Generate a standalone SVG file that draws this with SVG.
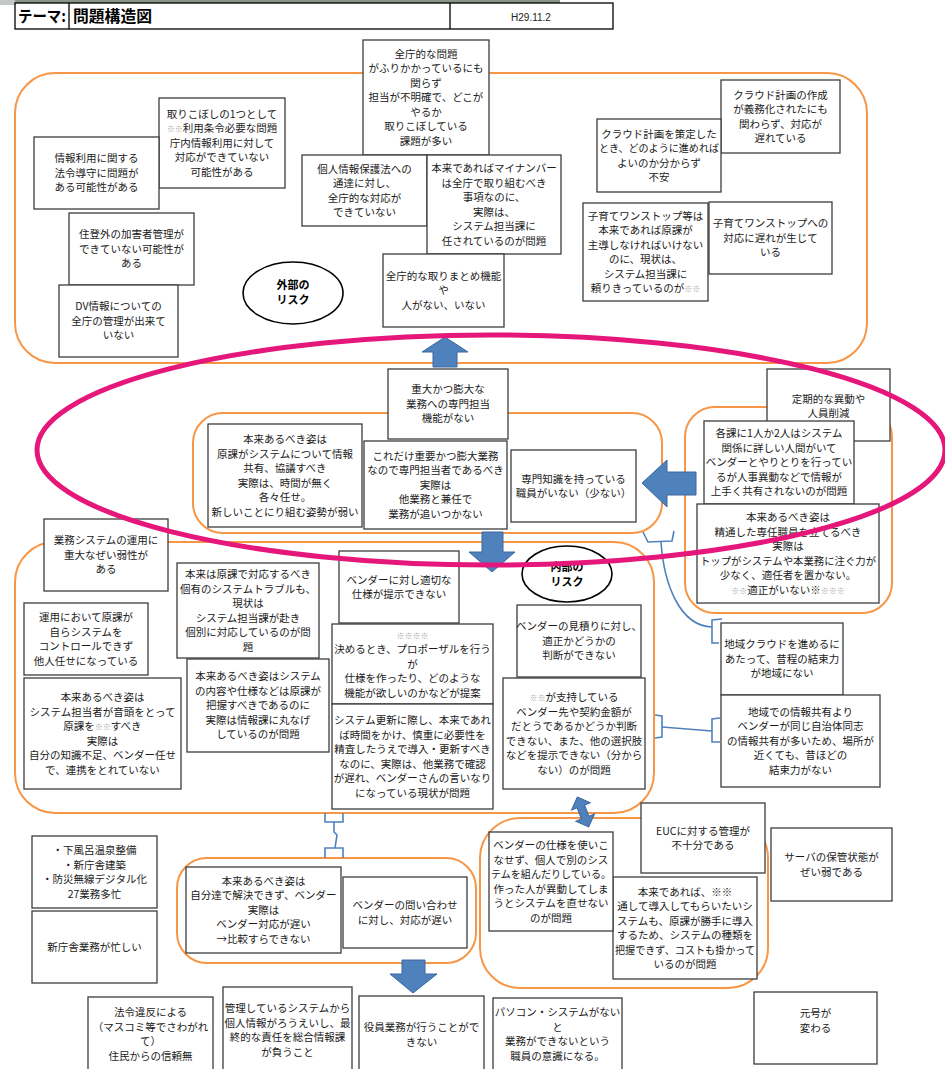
<svg xmlns="http://www.w3.org/2000/svg" width="945" height="1069" viewBox="0 0 945 1069">
<style>
.b{fill:#fff;stroke:#3c3c3c;stroke-width:1.3}
.t{font-family:"Noto Sans CJK JP","Liberation Sans",sans-serif;font-size:10.5px;fill:#1a1a1a;text-anchor:middle}
.g{fill:#9a9a9a;font-size:8px}
.grp{fill:none;stroke:#F79646;stroke-width:2}
.arr{fill:#4F81BD;stroke:#3A679E;stroke-width:1}
.con{fill:none;stroke:#4F81BD;stroke-width:1.6}
.risk{fill:#fff;stroke:#000;stroke-width:1.6}
.rt{font-family:"Noto Sans CJK JP","Liberation Sans",sans-serif;font-size:11px;font-weight:bold;fill:#000;text-anchor:middle}
.hd{font-family:"Noto Sans CJK JP","Liberation Sans",sans-serif;font-size:16px;font-weight:bold;fill:#000}
</style>
<rect width="945" height="1069" fill="#fff"/>
<rect x="0" y="0" width="560" height="3" fill="#8a948a"/>
<rect x="0" y="0" width="15" height="5" fill="#c4c8c4"/>

<g id="header">
<rect x="15" y="3" width="598" height="26" fill="#fff" stroke="#000" stroke-width="1.3"/>
<line x1="69" y1="3" x2="69" y2="29" stroke="#000" stroke-width="1.3"/>
<line x1="450" y1="3" x2="450" y2="29" stroke="#000" stroke-width="1.3"/>
<text class="hd" x="18" y="22" textLength="48" lengthAdjust="spacingAndGlyphs">テーマ:</text>
<text class="hd" x="73" y="22" textLength="79" lengthAdjust="spacingAndGlyphs">問題構造図</text>
<text x="531" y="21" font-family="Liberation Sans, sans-serif" font-size="10" text-anchor="middle" fill="#222">H29.11.2</text>
</g>

<g id="groups">
<rect id="grp-external" class="grp" x="15" y="73" width="852" height="290" rx="40"/>
<rect id="grp-center" class="grp" x="193" y="413" width="469" height="120" rx="30"/>
<rect id="grp-right" class="grp" x="685" y="407" width="207" height="206" rx="30"/>
<rect id="grp-internal" class="grp" x="15" y="542" width="639" height="271" rx="40"/>
<rect id="grp-lowright" class="grp" x="480" y="818" width="288" height="170" rx="40"/>
<rect id="grp-lowmid" class="grp" x="177" y="858" width="299" height="105" rx="30"/>
</g>

<g id="n-A"><rect class="b" x="159" y="98" width="126" height="90"/><text class="t"><tspan x="222" y="117.8">取りこぼしの1つとして</tspan><tspan x="222" y="132.3"><tspan class="g">※※</tspan>利用条令必要な問題</tspan><tspan x="222" y="146.8">庁内情報利用に対して</tspan><tspan x="222" y="161.3">対応ができていない</tspan><tspan x="222" y="175.8">可能性がある</tspan></text></g>
<g id="n-B"><rect class="b" x="34" y="137" width="125" height="72"/><text class="t"><tspan x="96.5" y="162.3">情報利用に関する</tspan><tspan x="96.5" y="176.8">法令導守に問題が</tspan><tspan x="96.5" y="191.3">ある可能性がある</tspan></text></g>
<g id="n-C"><rect class="b" x="69" y="213" width="125" height="72"/><text class="t"><tspan x="131.5" y="238.3">住登外の加害者管理が</tspan><tspan x="131.5" y="252.8">できていない可能性が</tspan><tspan x="131.5" y="267.3">ある</tspan></text></g>
<g id="n-D"><rect class="b" x="59" y="285" width="119" height="72"/><text class="t"><tspan x="118.5" y="310.3">DV情報についての</tspan><tspan x="118.5" y="324.8">全庁の管理が出来て</tspan><tspan x="118.5" y="339.3">いない</tspan></text></g>
<g id="n-ext-risk"><ellipse class="risk" cx="293" cy="293" rx="50" ry="31"/><text class="rt"><tspan x="293" y="289">外部の</tspan><tspan x="293" y="304">リスク</tspan></text></g>
<g id="n-E"><rect class="b" x="363" y="40" width="126" height="115"/><text class="t"><tspan x="426" y="57.8">全庁的な問題</tspan><tspan x="426" y="72.3">がふりかかっているにも</tspan><tspan x="426" y="86.8">関らず</tspan><tspan x="426" y="101.3">担当が不明確で、どこが</tspan><tspan x="426" y="115.8">やるか</tspan><tspan x="426" y="130.3">取りこぼしている</tspan><tspan x="426" y="144.8">課題が多い</tspan></text></g>
<g id="n-F"><rect class="b" x="302" y="155" width="125" height="71"/><text class="t"><tspan x="364.5" y="172.6">個人情報保護法への</tspan><tspan x="364.5" y="187.1">通達に対し、</tspan><tspan x="364.5" y="201.6">全庁的な対応が</tspan><tspan x="364.5" y="216.1">できていない</tspan></text></g>
<g id="n-G"><rect class="b" x="427" y="155" width="134" height="99"/><text class="t"><tspan x="494" y="172.1">本来であればマイナンバー</tspan><tspan x="494" y="186.6">は全庁で取り組むべき</tspan><tspan x="494" y="201.1">事項なのに、</tspan><tspan x="494" y="215.6">実際は、</tspan><tspan x="494" y="230.1">システム担当課に</tspan><tspan x="494" y="244.6">任されているのが問題</tspan></text></g>
<g id="n-H"><rect class="b" x="383" y="254" width="121" height="73"/><text class="t"><tspan x="443.5" y="279.8">全庁的な取りまとめ機能</tspan><tspan x="443.5" y="294.3">や</tspan><tspan x="443.5" y="308.8">人がない、いない</tspan></text></g>
<g id="n-I"><rect class="b" x="721" y="80" width="119" height="73"/><text class="t"><tspan x="780.5" y="98.6">クラウド計画の作成</tspan><tspan x="780.5" y="113.1">が義務化されたにも</tspan><tspan x="780.5" y="127.6">関わらず、対応が</tspan><tspan x="780.5" y="142.1">遅れている</tspan></text></g>
<g id="n-J"><rect class="b" x="597" y="119" width="124" height="73"/><text class="t"><tspan x="659" y="137.6">クラウド計画を策定した</tspan><tspan x="659" y="152.1" textLength="120" lengthAdjust="spacingAndGlyphs">とき、どのように進めれば</tspan><tspan x="659" y="166.6">よいのか分からず</tspan><tspan x="659" y="181.1">不安</tspan></text></g>
<g id="n-K"><rect class="b" x="583" y="203" width="125" height="98"/><text class="t"><tspan x="645.5" y="219.6">子育てワンストップ等は</tspan><tspan x="645.5" y="234.1">本来であれば原課が</tspan><tspan x="645.5" y="248.6">主導しなければいけない</tspan><tspan x="645.5" y="263.1">のに、現状は、</tspan><tspan x="645.5" y="277.6">システム担当課に</tspan><tspan x="645.5" y="292.1">頼りきっているのが<tspan class="g">※※</tspan></tspan></text></g>
<g id="n-L"><rect class="b" x="709" y="202" width="123" height="72"/><text class="t"><tspan x="770.5" y="227.3">子育てワンストップへの</tspan><tspan x="770.5" y="241.8">対応に遅れが生じて</tspan><tspan x="770.5" y="256.3">いる</tspan></text></g>

<g id="n-M"><rect class="b" x="388" y="369" width="120" height="70"/><text class="t"><tspan x="448" y="393.3">重大かつ膨大な</tspan><tspan x="448" y="407.8">業務への専門担当</tspan><tspan x="448" y="422.3">機能がない</tspan></text></g>
<g id="n-N"><rect class="b" x="208" y="424" width="154" height="103"/><text class="t"><tspan x="285" y="443.1">本来あるべき姿は</tspan><tspan x="285" y="457.6">原課がシステムについて情報</tspan><tspan x="285" y="472.1">共有、協議すべき</tspan><tspan x="285" y="486.6">実際は、時間が無く</tspan><tspan x="285" y="501.1">各々任せ。</tspan><tspan x="285" y="515.6">新しいことにり組む姿勢が弱い</tspan></text></g>
<g id="n-O"><rect class="b" x="364" y="441" width="143" height="88"/><text class="t"><tspan x="435.5" y="459.8">これだけ重要かつ膨大業務</tspan><tspan x="435.5" y="474.3">なので専門担当者であるべき</tspan><tspan x="435.5" y="488.8">実際は</tspan><tspan x="435.5" y="503.3">他業務と兼任で</tspan><tspan x="435.5" y="517.8">業務が追いつかない</tspan></text></g>
<g id="n-P"><rect class="b" x="511" y="450" width="125" height="72"/><text class="t"><tspan x="573.5" y="482.6">専門知識を持っている</tspan><tspan x="573.5" y="497.1">職員がいない（少ない）</tspan></text></g>
<g id="n-Q"><rect class="b" x="767" y="369" width="123" height="72"/><text class="t"><tspan x="828.5" y="403">定期的な異動や</tspan><tspan x="828.5" y="417">人員削減</tspan></text></g>
<g id="n-R"><rect class="b" x="704" y="421" width="150" height="83"/><text class="t"><tspan x="779" y="437.3">各課に1人か2人はシステム</tspan><tspan x="779" y="451.8">関係に詳しい人間がいて</tspan><tspan x="779" y="466.3">ベンダーとやりとりを行ってい</tspan><tspan x="779" y="480.8">るが人事異動などで情報が</tspan><tspan x="779" y="495.3">上手く共有されないのが問題</tspan></text></g>
<g id="n-S"><rect class="b" x="697" y="504" width="182" height="99"/><text class="t"><tspan x="788" y="521.1">本来あるべき姿は</tspan><tspan x="788" y="535.6">精通した専任職員を立てるべき</tspan><tspan x="788" y="550.1">実際は</tspan><tspan x="788" y="564.6" textLength="176" lengthAdjust="spacingAndGlyphs">トップがシステムや本業務に注ぐ力が</tspan><tspan x="788" y="579.1">少なく、適任者を置かない。</tspan><tspan x="788" y="593.6"><tspan class="g">※※</tspan>適正がいない※<tspan class="g">※※※</tspan></tspan></text></g>

<g id="n-T"><rect class="b" x="44" y="519" width="124" height="72"/><text class="t"><tspan x="106" y="544.3">業務システムの運用に</tspan><tspan x="106" y="558.8">重大なぜい弱性が</tspan><tspan x="106" y="573.3">ある</tspan></text></g>
<g id="n-U"><rect class="b" x="24" y="603" width="124" height="72"/><text class="t"><tspan x="86" y="621.1">運用において原課が</tspan><tspan x="86" y="635.6">自らシステムを</tspan><tspan x="86" y="650.1">コントロールできず</tspan><tspan x="86" y="664.6">他人任せになっている</tspan></text></g>
<g id="n-V"><rect class="b" x="24" y="678" width="157" height="111"/><text class="t"><tspan x="102.5" y="701.1">本来あるべき姿は</tspan><tspan x="102.5" y="715.6">システム担当者が音頭をとって</tspan><tspan x="102.5" y="730.1">原課を<tspan class="g">※※</tspan>すべき</tspan><tspan x="102.5" y="744.6">実際は</tspan><tspan x="102.5" y="759.1">自分の知識不足、ベンダー任せ</tspan><tspan x="102.5" y="773.6">で、連携をとれていない</tspan></text></g>
<g id="n-W"><rect class="b" x="177" y="563" width="142" height="95"/><text class="t"><tspan x="248" y="578.1">本来は原課で対応するべき</tspan><tspan x="248" y="592.6">個有のシステムトラブルも、</tspan><tspan x="248" y="607.1">現状は</tspan><tspan x="248" y="621.6">システム担当課が赴き</tspan><tspan x="248" y="636.1">個別に対応しているのが問</tspan><tspan x="248" y="650.6">題</tspan></text></g>
<g id="n-X"><rect class="b" x="187" y="659" width="142" height="93"/><text class="t"><tspan x="258" y="680.3">本来あるべき姿はシステム</tspan><tspan x="258" y="694.8">の内容や仕様などは原課が</tspan><tspan x="258" y="709.3">把握すべきであるのに</tspan><tspan x="258" y="723.8">実際は情報課に丸なげ</tspan><tspan x="258" y="738.3">しているのが問題</tspan></text></g>
<g id="n-Y"><rect class="b" x="339" y="551" width="120" height="72"/><text class="t"><tspan x="399" y="583.6">ベンダーに対し適切な</tspan><tspan x="399" y="598.1">仕様が提示できない</tspan></text></g>
<g id="n-Z"><rect class="b" x="332" y="624" width="161" height="80"/><text class="t"><tspan x="412.5" y="638.8" class="g">※※※※</tspan><tspan x="412.5" y="653.3">決めるとき、プロポーザルを行う</tspan><tspan x="412.5" y="667.8">が</tspan><tspan x="412.5" y="682.3">仕様を作ったり、どのような</tspan><tspan x="412.5" y="696.8">機能が欲しいのかなどが提案</tspan></text></g>
<g id="n-AA"><rect class="b" x="332" y="704" width="161" height="105"/><text class="t"><tspan x="412.5" y="724.1">システム更新に際し、本来であれ</tspan><tspan x="412.5" y="738.6">ば時間をかけ、慎重に必要性を</tspan><tspan x="412.5" y="753.1">精査したうえで導入・更新すべき</tspan><tspan x="412.5" y="767.6">なのに、実際は、他業務で確認</tspan><tspan x="412.5" y="782.1">が遅れ、ベンダーさんの言いなり</tspan><tspan x="412.5" y="796.6">になっている現状が問題</tspan></text></g>
<g id="n-int-risk"><ellipse class="risk" cx="567" cy="574" rx="45" ry="28"/><text class="rt"><tspan x="567" y="571">内部の</tspan><tspan x="567" y="586">リスク</tspan></text></g>
<g id="n-AB"><rect class="b" x="517" y="605" width="124" height="72"/><text class="t"><tspan x="579" y="630.3">ベンダーの見積りに対し、</tspan><tspan x="579" y="644.8">適正かどうかの</tspan><tspan x="579" y="659.3">判断ができない</tspan></text></g>
<g id="n-AC"><rect class="b" x="503" y="678" width="142" height="111"/><text class="t"><tspan x="574" y="701.1"><tspan class="g">※※</tspan>が支持している</tspan><tspan x="574" y="715.6">ベンダー先や契約金額が</tspan><tspan x="574" y="730.1">だとうであるかどうか判断</tspan><tspan x="574" y="744.6">できない、また、他の選択肢</tspan><tspan x="574" y="759.1">などを提示できない（分から</tspan><tspan x="574" y="773.6">ない）のが問題</tspan></text></g>

<g id="n-AD"><rect class="b" x="721" y="623" width="122" height="72"/><text class="t"><tspan x="782" y="648.3">地域クラウドを進めるに</tspan><tspan x="782" y="662.8">あたって、昔程の結束力</tspan><tspan x="782" y="677.3">が地域にない</tspan></text></g>
<g id="n-AE"><rect class="b" x="721" y="695" width="159" height="92"/><text class="t"><tspan x="800.5" y="715.8">地域での情報共有より</tspan><tspan x="800.5" y="730.3">ベンダーが同じ自治体同志</tspan><tspan x="800.5" y="744.8">の情報共有が多いため、場所が</tspan><tspan x="800.5" y="759.3">近くても、昔ほどの</tspan><tspan x="800.5" y="773.8">結束力がない</tspan></text></g>
<g id="n-AF"><rect class="b" x="641" y="803" width="124" height="70"/><text class="t"><tspan x="703" y="834.6">EUCに対する管理が</tspan><tspan x="703" y="849.1">不十分である</tspan></text></g>
<g id="n-AG"><rect class="b" x="771" y="828" width="121" height="73"/><text class="t"><tspan x="831.5" y="861">サーバの保管状態が</tspan><tspan x="831.5" y="875.5">ぜい弱である</tspan></text></g>
<g id="n-AH"><rect class="b" x="613" y="877" width="144" height="102"/><text class="t"><tspan x="685" y="895.6">本来であれば、※※</tspan><tspan x="685" y="910.1">通して導入してもらいたいシ</tspan><tspan x="685" y="924.6">ステムも、原課が勝手に導入</tspan><tspan x="685" y="939.1">するため、システムの種類を</tspan><tspan x="685" y="953.6" textLength="140" lengthAdjust="spacingAndGlyphs">把握できず、コストも掛かって</tspan><tspan x="685" y="968.1">いるのが問題</tspan></text></g>
<g id="n-AI"><rect class="b" x="754" y="992" width="123" height="72"/><text class="t"><tspan x="815.5" y="1017">元号が</tspan><tspan x="815.5" y="1032">変わる</tspan></text></g>
<g id="n-AJ"><rect class="b" x="489" y="832" width="124" height="99"/><text class="t"><tspan x="551" y="849.1">ベンダーの仕様を使いこ</tspan><tspan x="551" y="863.6">なせず、個人で別のシス</tspan><tspan x="551" y="878.1" textLength="120" lengthAdjust="spacingAndGlyphs">テムを組んだりしている。</tspan><tspan x="551" y="892.6">作った人が異動してしま</tspan><tspan x="551" y="907.1">うとシステムを直せない</tspan><tspan x="551" y="921.6">のが問題</tspan></text></g>
<g id="n-AK"><rect class="b" x="186" y="867" width="155" height="86"/><text class="t"><tspan x="263.5" y="884.8">本来あるべき姿は</tspan><tspan x="263.5" y="899.3">自分達で解決できず、ベンダー</tspan><tspan x="263.5" y="913.8">実際は</tspan><tspan x="263.5" y="928.3">ベンダー対応が遅い</tspan><tspan x="263.5" y="942.8">→比較すらできない</tspan></text></g>
<g id="n-AL"><rect class="b" x="343" y="877" width="124" height="71"/><text class="t"><tspan x="405" y="909.1">ベンダーの問い合わせ</tspan><tspan x="405" y="923.6">に対し、対応が遅い</tspan></text></g>
<g id="n-AM"><rect class="b" x="32" y="836" width="125" height="72"/><text class="t"><tspan x="94.5" y="854.1">・下風呂温泉整備</tspan><tspan x="94.5" y="868.6">・新庁舎建築</tspan><tspan x="94.5" y="883.1">・防災無線デジタル化</tspan><tspan x="94.5" y="897.6">27業務多忙</tspan></text></g>
<g id="n-AN"><rect class="b" x="32" y="911" width="125" height="72"/><text class="t"><tspan x="94.5" y="950.8">新庁舎業務が忙しい</tspan></text></g>
<g id="n-AO"><rect class="b" x="88" y="997" width="125" height="80"/><text class="t"><tspan x="150.5" y="1016">法令違反による</tspan><tspan x="150.5" y="1030.5">（マスコミ等でさわがれ</tspan><tspan x="150.5" y="1045">て）</tspan><tspan x="150.5" y="1059.5">住民からの信頼無</tspan></text></g>
<g id="n-AP"><rect class="b" x="223" y="987" width="129" height="90"/><text class="t"><tspan x="287.5" y="1012">管理しているシステムから</tspan><tspan x="287.5" y="1026.5">個人情報がろうえいし、最</tspan><tspan x="287.5" y="1041">終的な責任を総合情報課</tspan><tspan x="287.5" y="1055.5">が負うこと</tspan></text></g>
<g id="n-AQ"><rect class="b" x="359" y="996" width="125" height="81"/><text class="t"><tspan x="421.5" y="1031">役員業務が行うことがで</tspan><tspan x="421.5" y="1045.5">きない</tspan></text></g>
<g id="n-AR"><rect class="b" x="493" y="998" width="129" height="79"/><text class="t"><tspan x="557.5" y="1016">パソコン・システムがない</tspan><tspan x="557.5" y="1030.5">と</tspan><tspan x="557.5" y="1045">業務ができないという</tspan><tspan x="557.5" y="1059.5">職員の意識になる。</tspan></text></g>

<g id="connectors">
<polygon class="arr" points="433,367 433,352 422,352 445,337 468,352 457,352 457,367"/>
<polygon class="arr" points="696,472 667,472 667,460 642,483 667,507 667,495 696,495"/>
<polygon class="arr" points="482,532 503,532 503,552 515,552 492,572 469,552 482,552"/>
<polygon class="arr" points="402,960 425,960 425,974 437,974 413,993 390,974 402,974"/>
<polygon class="arr" transform="translate(583,812) rotate(-21)" points="0,-16 10,-6 4,-6 4,6 10,6 0,16 -10,6 -4,6 -4,-6 -10,-6"/>
<path class="con" d="M643,532 L648,542 L672,541 L674,531"/>
<path class="con" d="M661,542 C664,585 680,626 712,627"/>
<path class="con" d="M722,619 L712,620 L712,643 L719,643"/>
<path class="con" d="M655,715 L662,716 L662,737 L655,738"/>
<path class="con" d="M662,727 L712,731"/>
<path class="con" d="M720,718 L712,719 L712,742 L720,742"/>
<path class="con" d="M325,813 L325,822 L343,822 L343,813"/>
<path class="con" d="M334,822 L334,832 L337,835 L335,848"/>
<path class="con" d="M325,858 L325,848 L343,848 L343,858"/>
</g>

<ellipse id="highlight" cx="491" cy="450" rx="454" ry="115" fill="none" stroke="#E6177A" stroke-width="5"/>
</svg>
